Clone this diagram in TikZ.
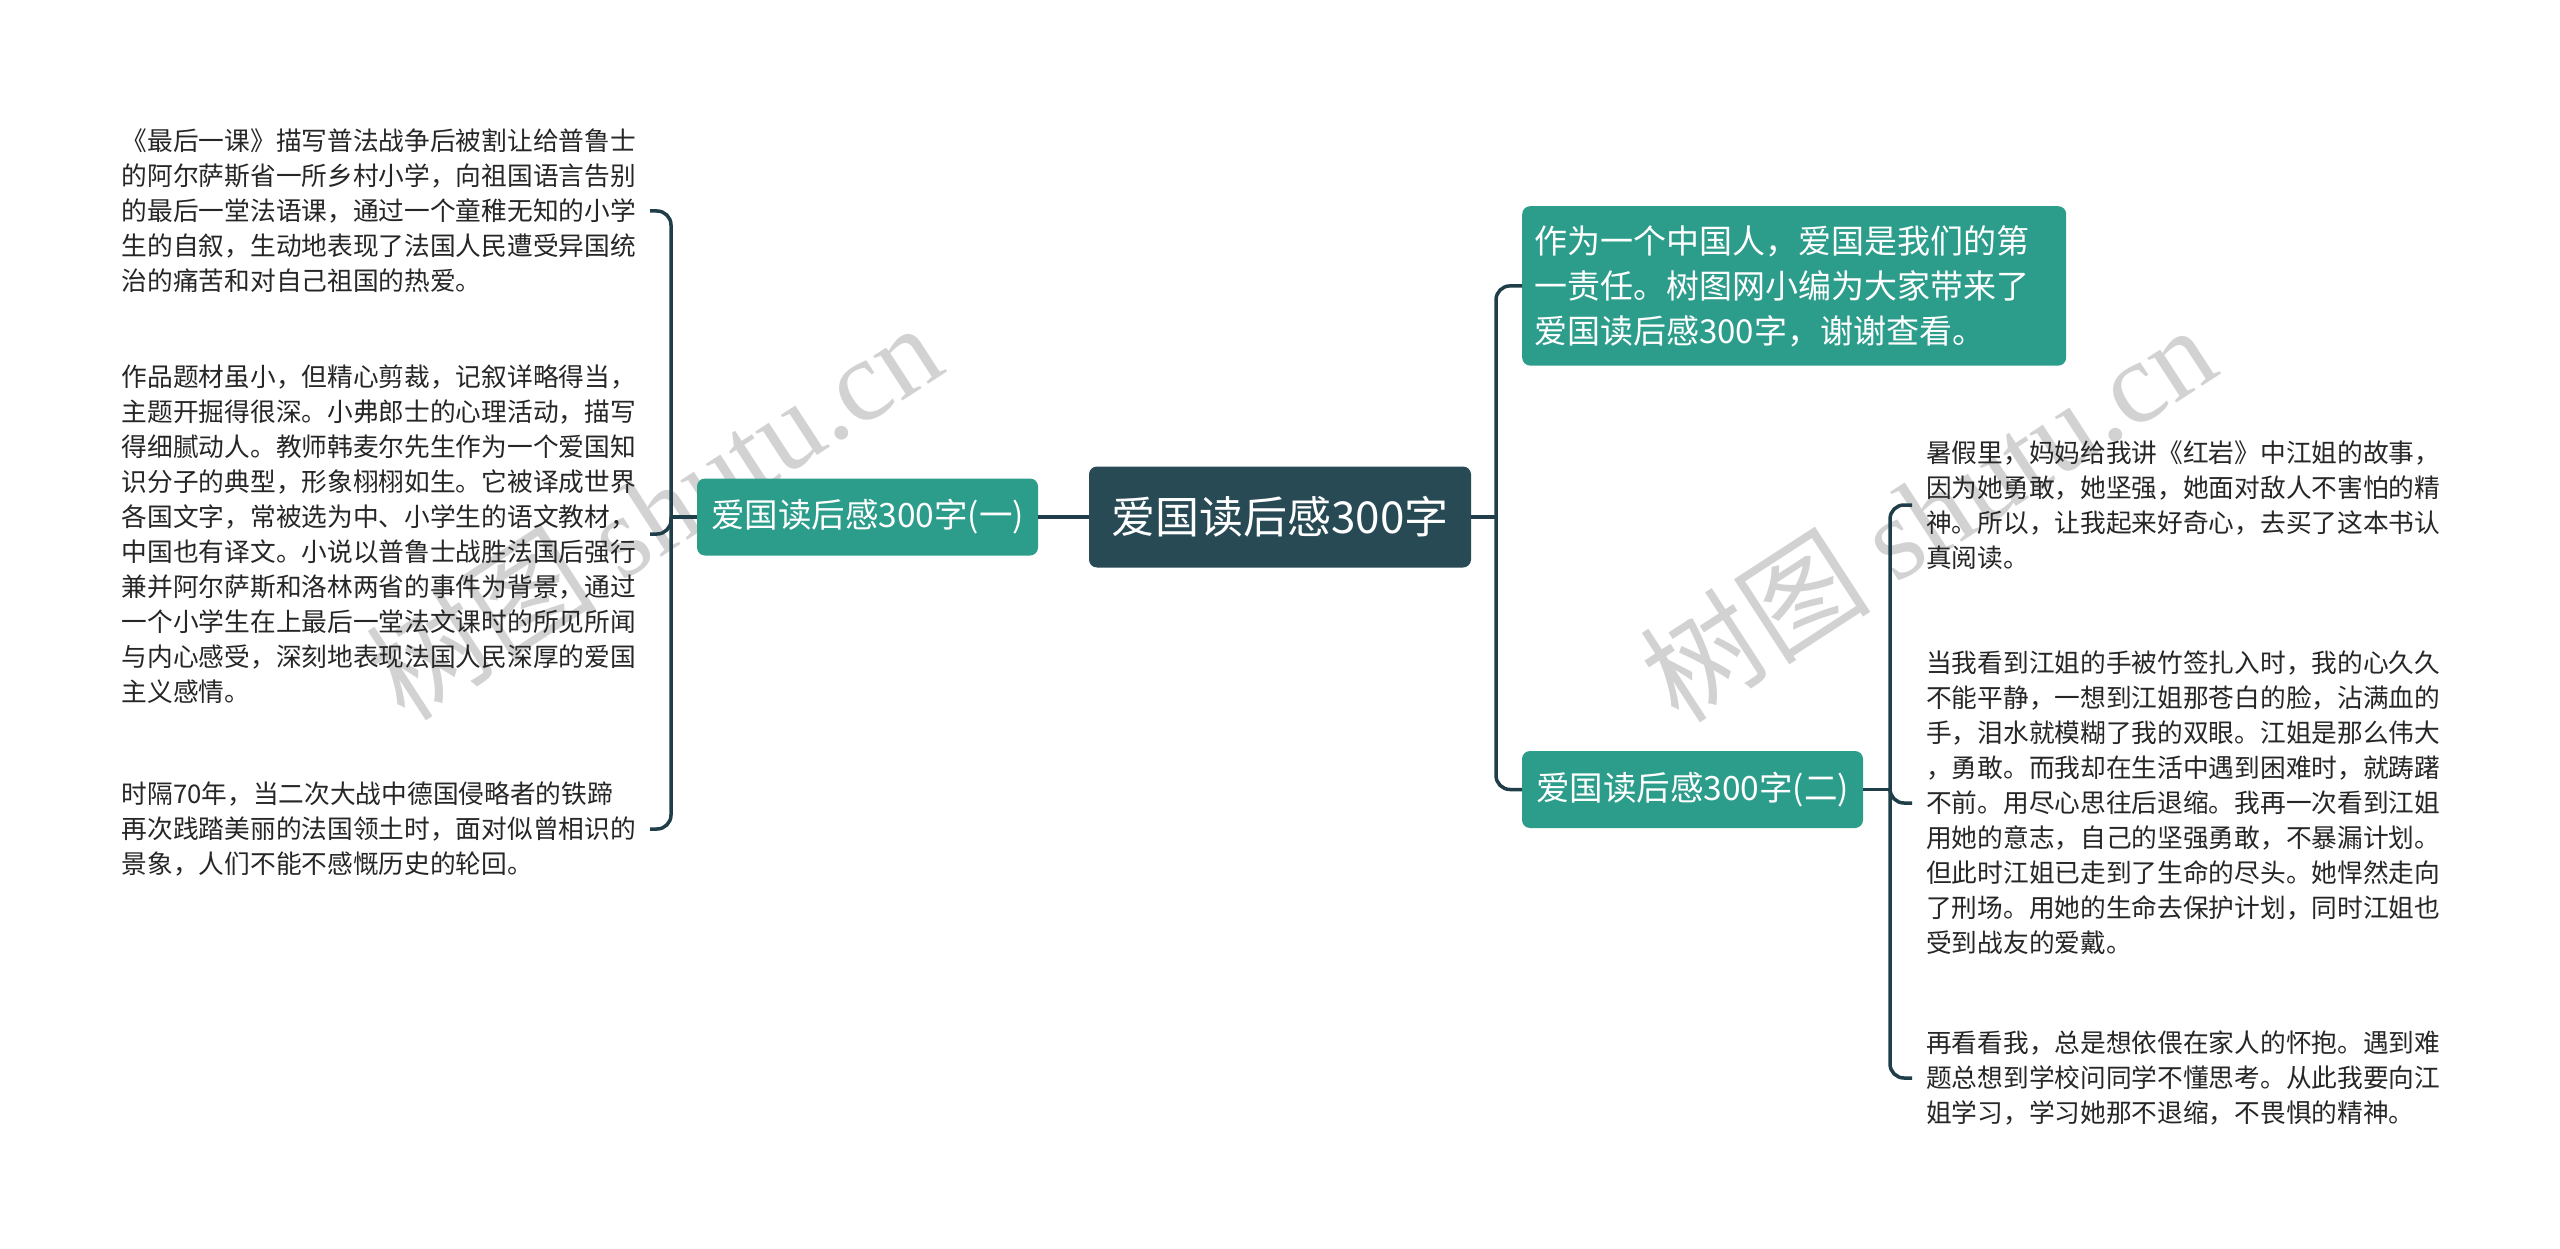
\documentclass[tikz,border=0pt]{standalone}
\usepackage{fontspec}
\setmainfont{Noto Sans CJK SC}
\newfontfamily\wmserif{Liberation Serif}
\definecolor{rootc}{HTML}{284A55}
\definecolor{tealc}{HTML}{2C9C8B}
\definecolor{linec}{HTML}{1F3E49}
\definecolor{leaftxt}{HTML}{262626}
\definecolor{wmc}{HTML}{D2D2D2}
\begin{document}
\begin{tikzpicture}[x=1pt,y=-1pt,
  rootbox/.style={fill=rootc, text=white, rounded corners=8pt, minimum width=382pt, minimum height=101pt, inner sep=0pt,
    font={\fontsize{44}{52}\selectfont}},
  subbox/.style={fill=tealc, text=white, rounded corners=8pt, minimum width=341pt, minimum height=77pt, inner sep=0pt,
    font={\fontsize{33.5}{45}\selectfont}},
  bigsub/.style={fill=tealc, text=white, rounded corners=8pt, text width=520pt, align=left, inner xsep=12pt, inner ysep=19pt,
    font={\fontsize{33}{45}\selectfont}},
  leaftext/.style={text=leaftxt, align=left, inner xsep=14pt, inner ysep=0pt,
    font={\fontsize{25.7}{35}\selectfont}},
  conn/.style={draw=linec, line width=3.5pt, rounded corners=14pt},
  wm/.style={text=wmc, rotate=33, inner sep=0pt, font={\fontsize{116}{116}\selectfont}}
]
\path[fill=white, use as bounding box] (0,0) rectangle (2560,1249);

% watermarks
\node[wm] (wmL) at (653,510) {树图 {\wmserif shutu.cn}};
\node[wm] (wmR) at (1927,512) {树图 {\wmserif shutu.cn}};

% root and main branches
\node[rootbox] (root) at (1280,517) {爱国读后感300字};
\node[subbox] (s1) at (867.5,517) {爱国读后感300字(一)};
\node[bigsub, anchor=north west] (s2) at (1522,206) {作为一个中国人，爱国是我们的第\\一责任。树图网小编为大家带来了\\爱国读后感300字，谢谢查看。};
\node[subbox] (s3) at (1692.5,789.5) {爱国读后感300字(二)};

% left leaves
\node[leaftext, anchor=east] (l1) at (650,211) {《最后一课》描写普法战争后被割让给普鲁士\\的阿尔萨斯省一所乡村小学，向祖国语言告别\\的最后一堂法语课，通过一个童稚无知的小学\\生的自叙，生动地表现了法国人民遭受异国统\\治的痛苦和对自己祖国的热爱。};
\node[leaftext, anchor=east] (l2) at (650,534) {作品题材虽小，但精心剪裁，记叙详略得当，\\主题开掘得很深。小弗郎士的心理活动，描写\\得细腻动人。教师韩麦尔先生作为一个爱国知\\识分子的典型，形象栩栩如生。它被译成世界\\各国文字，常被选为中、小学生的语文教材，\\中国也有译文。小说以普鲁士战胜法国后强行\\兼并阿尔萨斯和洛林两省的事件为背景，通过\\一个小学生在上最后一堂法文课时的所见所闻\\与内心感受，深刻地表现法国人民深厚的爱国\\主义感情。};
\node[leaftext, anchor=east] (l3) at (650,829) {时隔70年，当二次大战中德国侵略者的铁蹄\\再次践踏美丽的法国领土时，面对似曾相识的\\景象，人们不能不感慨历史的轮回。};

% right leaves
\node[leaftext, anchor=west] (r1) at (1912,505) {暑假里，妈妈给我讲《红岩》中江姐的故事，\\因为她勇敢，她坚强，她面对敌人不害怕的精\\神。所以，让我起来好奇心，去买了这本书认\\真阅读。};
\node[leaftext, anchor=west] (r2) at (1912,803) {当我看到江姐的手被竹签扎入时，我的心久久\\不能平静，一想到江姐那苍白的脸，沾满血的\\手，泪水就模糊了我的双眼。江姐是那么伟大\\，勇敢。而我却在生活中遇到困难时，就踌躇\\不前。用尽心思往后退缩。我再一次看到江姐\\用她的意志，自己的坚强勇敢，不暴漏计划。\\但此时江姐已走到了生命的尽头。她悍然走向\\了刑场。用她的生命去保护计划，同时江姐也\\受到战友的爱戴。};
\node[leaftext, anchor=west] (r3) at (1912,1078) {再看看我，总是想依偎在家人的怀抱。遇到难\\题总想到学校问同学不懂思考。从此我要向江\\姐学习，学习她那不退缩，不畏惧的精神。};

% junction coordinates
\coordinate (jl) at (671,517);
\coordinate (jr) at (1496,517);
\coordinate (j3) at (1890,789.5);

% connectors: root to branches
\draw[conn] (root.west) -- (s1.east);
\draw[conn] (root.east) -- (jr);
\draw[conn] (s2.west) -| (jr) |- (s3.west);

% left bracket
\draw[conn] (s1.west) -- (jl);
\draw[conn] (l1.east) -| (jl) |- (l3.east);
\draw[conn] (l2.east) -| (jl);

% right bracket
\draw[conn] (s3.east) -- (j3);
\draw[conn] (r1.west) -| (j3) |- (r3.west);
\draw[conn] (r2.west) -| (j3);
\end{tikzpicture}
\end{document}
